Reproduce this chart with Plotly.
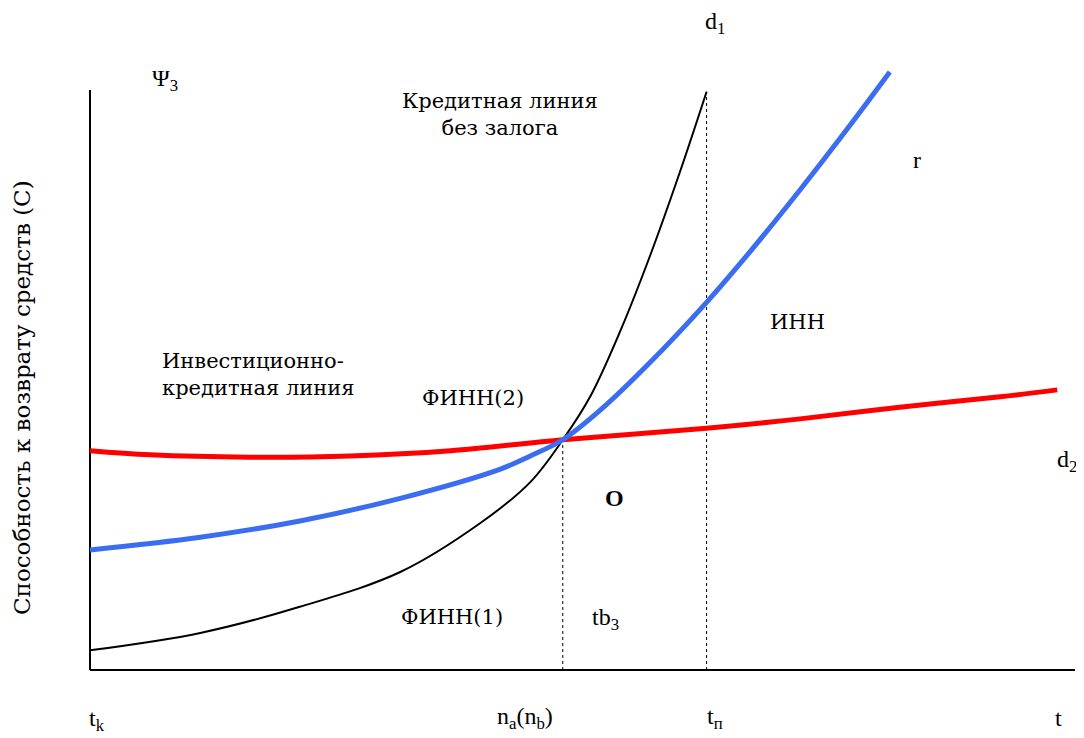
import plotly.graph_objects as go

# curve readings (x: time units, y: repayment ability units)
black_x = [0, 11.2, 21.3, 31.5, 39.6, 44.7, 48.0, 50.8, 53.8, 56.9, 59.9, 62.6]
black_y = [3.4, 6.4, 10.9, 16.9, 25.3, 32.4, 39.7, 47.2, 58.3, 71.6, 85.9, 99.7]

blue_x = [0, 11.2, 21.3, 31.5, 41.6, 44.7, 48.0, 51.8, 56.9, 62.6, 67.0, 72.1, 77.2, 81.2]
blue_y = [20.7, 22.9, 25.7, 29.6, 34.6, 36.9, 39.7, 44.8, 53.1, 63.4, 72.1, 82.8, 94.0, 103.1]

red_x = [0, 6.1, 16.2, 26.4, 36.6, 48.0, 62.6, 72.1, 82.2, 92.4, 98.2]
red_y = [37.8, 37.1, 36.7, 36.9, 37.8, 39.7, 41.7, 43.3, 45.3, 47.1, 48.3]

x_axis = [0, 100]
y_axis = [0, 100]
na_x = 48.0
na_top = 39.7
tp_x = 62.6
tp_top = 99.7

FONT = "Liberation Serif, DejaVu Serif, serif"
CYR = "DejaVu Serif"
FS = 24
FS_CYR = 21

fig = go.Figure()

# axes
fig.add_trace(go.Scatter(x=[x_axis[0], x_axis[0]], y=y_axis, mode="lines",
                         line=dict(color="black", width=2), hoverinfo="skip"))
fig.add_trace(go.Scatter(x=x_axis, y=[y_axis[0], y_axis[0]], mode="lines",
                         line=dict(color="black", width=2), hoverinfo="skip"))

# dotted verticals
fig.add_trace(go.Scatter(x=[na_x, na_x], y=[0, na_top], mode="lines",
                         line=dict(color="black", width=1, dash="dot")))
fig.add_trace(go.Scatter(x=[tp_x, tp_x], y=[0, tp_top], mode="lines",
                         line=dict(color="black", width=1, dash="dot")))

fig.add_trace(go.Scatter(x=black_x, y=black_y, mode="lines", line_shape="spline",
                         line=dict(color="black", width=2)))
fig.add_trace(go.Scatter(x=red_x, y=red_y, mode="lines", line_shape="spline",
                         line=dict(color="#ff0000", width=5)))
fig.add_trace(go.Scatter(x=blue_x, y=blue_y, mode="lines", line_shape="spline",
                         line=dict(color="#3a6df0", width=5)))

labels = [
    (7.6, 101.7, "Ψ<sub>3</sub>", FONT, FS),
    (63.5, 111.5, "d<sub>1</sub>", FONT, FS),
    (41.6, 95.7, "Кредитная линия<br>без залога", CYR, FS_CYR),
    (84.0, 87.9, "r", FONT, FS),
    (71.8, 60.0, "ИНН", CYR, FS_CYR),
    (38.9, 46.9, "ФИНН(2)", CYR, FS_CYR),
    (99.2, 36.0, "d<sub>2</sub>", FONT, FS),
    (53.3, 29.7, "<b>O</b>", FONT, FS),
    (36.8, 9.1, "ФИНН(1)", CYR, FS_CYR),
    (52.3, 8.8, "tb<sub>3</sub>", FONT, FS),
    (0.7, -8.6, "t<sub>k</sub>", FONT, FS),
    (44.2, -8.3, "n<sub>a</sub>(n<sub>b</sub>)", FONT, FS),
    (63.5, -8.3, "t<sub>п</sub>", FONT, FS),
    (98.3, -8.3, "t", FONT, FS),
]
for x, y, txt, fam, size in labels:
    fig.add_annotation(x=x, y=y, text=txt, showarrow=False,
                       font=dict(family=fam, size=size, color="black"))

fig.add_annotation(x=7.1, y=51.0, text="Инвестиционно-<br>кредитная линия",
                   showarrow=False, xanchor="left", align="left",
                   font=dict(family=CYR, size=FS_CYR, color="black"))
fig.add_annotation(x=-6.9, y=46.9, text="Способность к возврату средств (С)",
                   showarrow=False, textangle=-90,
                   font=dict(family=CYR, size=23, color="black"))

fig.update_layout(
    width=1084, height=738,
    margin=dict(l=0, r=0, t=0, b=0),
    paper_bgcolor="white", plot_bgcolor="white",
    showlegend=False,
    font=dict(family=FONT, size=FS, color="black"),
    xaxis=dict(range=[-8.325, 101.73], visible=False, fixedrange=True),
    yaxis=dict(range=[-13.10, 114.14], visible=False, fixedrange=True),
)

fig.write_html("out.html")
